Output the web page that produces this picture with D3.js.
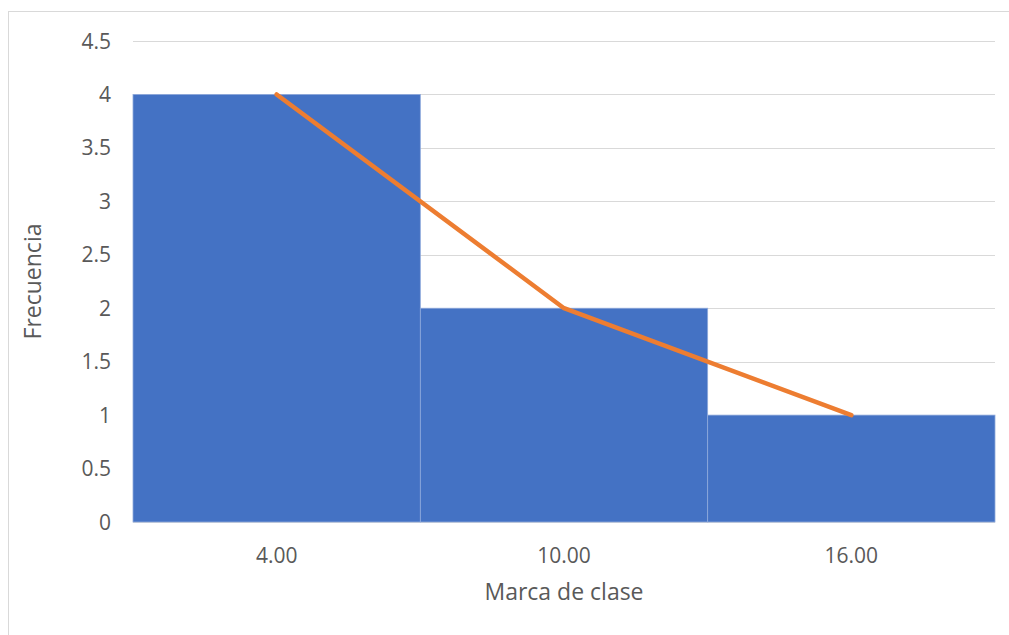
<!DOCTYPE html>
<html>
<head>
<meta charset="utf-8">
<script src="https://cdn.jsdelivr.net/npm/d3@7"></script>
<style>
  html, body { margin: 0; padding: 0; background: #fff; }
  svg { display: block; }
  text { font-family: "Open Sans", "Liberation Sans", sans-serif; fill: #595959; }
</style>
</head>
<body>
<svg id="chart" width="1009" height="635"></svg>
<script>
// Class marks and frequencies
const categories = ["4.00", "10.00", "16.00"];
const frequencies = [4, 2, 1];
const yTicks = [0, 0.5, 1, 1.5, 2, 2.5, 3, 3.5, 4, 4.5];
const yTickLabels = ["0", "0.5", "1", "1.5", "2", "2.5", "3", "3.5", "4", "4.5"];

const svg = d3.select("#chart");
const W = 1009, H = 635;

// outer chart frame
svg.append("rect")
  .attr("x", 8.5).attr("y", 11.5)
  .attr("width", W + 10).attr("height", H + 10)
  .attr("fill", "#fff").attr("stroke", "#d9d9d9").attr("stroke-width", 1);

const plot = { left: 133, right: 995, top: 41, bottom: 522 };

const x = d3.scaleBand()
  .domain(categories)
  .range([plot.left, plot.right])
  .paddingInner(0).paddingOuter(0);

const y = d3.scaleLinear()
  .domain([0, 4.5])
  .range([plot.bottom, plot.top]);

// horizontal gridlines
svg.append("g")
  .selectAll("line")
  .data(yTicks)
  .join("line")
  .attr("x1", plot.left).attr("x2", plot.right)
  .attr("y1", d => Math.round(y(d)) + 0.5)
  .attr("y2", d => Math.round(y(d)) + 0.5)
  .attr("stroke", "#d9d9d9").attr("stroke-width", 1);

// y tick labels
svg.append("g")
  .selectAll("text")
  .data(yTicks)
  .join("text")
  .attr("x", 111)
  .attr("y", d => y(d))
  .attr("dy", "0.36em")
  .attr("text-anchor", "end")
  .style("font-size", "21px")
  .text((d, i) => yTickLabels[i]);

// histogram bars
svg.append("g")
  .selectAll("rect")
  .data(frequencies)
  .join("rect")
  .attr("x", (d, i) => x(categories[i]))
  .attr("y", d => y(d))
  .attr("width", x.bandwidth())
  .attr("height", d => y(0) - y(d))
  .attr("fill", "#4472c4")
  .attr("stroke", "#8faadc")
  .attr("stroke-width", 0.8);

// frequency polygon through class marks
const line = d3.line()
  .x((d, i) => x(categories[i]) + x.bandwidth() / 2)
  .y(d => y(d));

svg.append("path")
  .datum(frequencies)
  .attr("d", line)
  .attr("fill", "none")
  .attr("stroke", "#ed7d31")
  .attr("stroke-width", 4.5)
  .attr("stroke-linecap", "round")
  .attr("stroke-linejoin", "round");

// x tick labels
svg.append("g")
  .selectAll("text")
  .data(categories)
  .join("text")
  .attr("x", d => x(d) + x.bandwidth() / 2)
  .attr("y", 555)
  .attr("dy", "0.36em")
  .attr("text-anchor", "middle")
  .style("font-size", "21px")
  .text(d => d);

// axis titles
svg.append("text")
  .attr("x", (plot.left + plot.right) / 2)
  .attr("y", 592)
  .attr("dy", "0.36em")
  .attr("text-anchor", "middle")
  .style("font-size", "23px")
  .text("Marca de clase");

svg.append("text")
  .attr("transform", `translate(33,${(plot.top + plot.bottom) / 2}) rotate(-90)`)
  .attr("dy", "0.36em")
  .attr("text-anchor", "middle")
  .style("font-size", "23px")
  .text("Frecuencia");
</script>
</body>
</html>
